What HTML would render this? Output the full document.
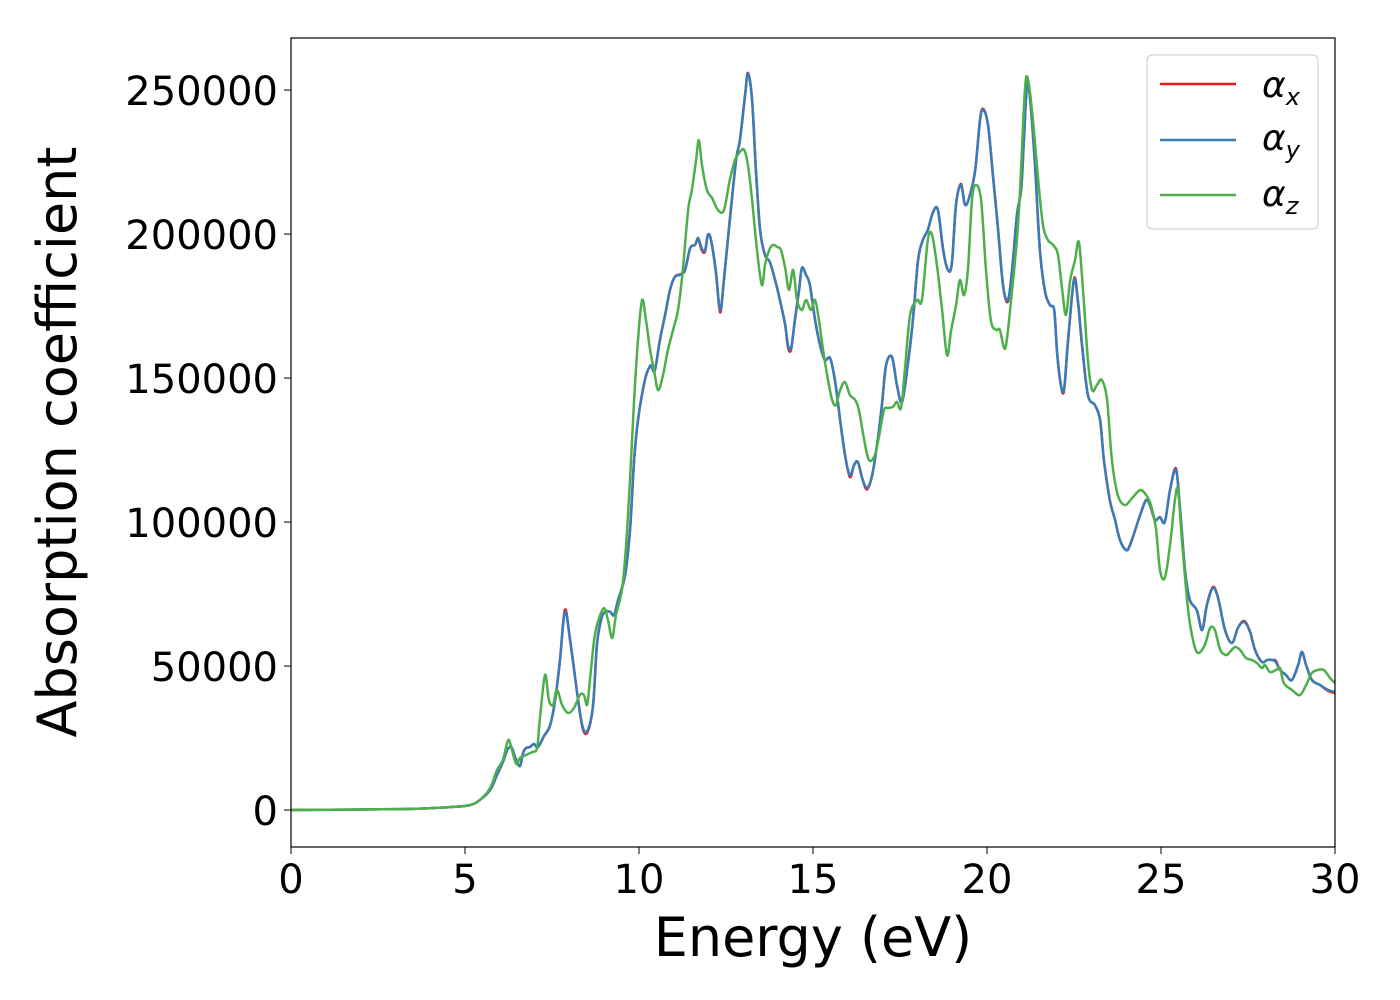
<!DOCTYPE html>
<html><head><meta charset="utf-8"><style>
body{margin:0;background:#fff}
svg{display:block;font-family:"DejaVu Sans","Liberation Sans",sans-serif}
</style></head><body>
<svg id="chart" width="1400" height="1000" viewBox="0 0 1400 1000">
<rect x="0" y="0" width="1400" height="1000" fill="#fff"/>
<g id="series"></g>
<rect x="291" y="38" width="1044" height="809" fill="none" stroke="#000" stroke-width="1.2"/>
<g id="xticks"></g>
<g id="yticks"></g>
<text x="813" y="956" font-size="54" text-anchor="middle">Energy (eV)</text>
<text transform="translate(76,442) rotate(-90)" font-size="54" text-anchor="middle">Absorption coefficient</text>
<g>
<rect x="1147" y="55" width="171" height="174" rx="5" fill="#fff" fill-opacity="0.8" stroke="#ccc" stroke-width="1"/>
<line x1="1160" y1="84" x2="1236" y2="84" stroke="#e41a1c" stroke-width="2.5"/>
<text x="1262" y="97" font-size="36" font-style="italic">α<tspan font-size="24" dy="8">x</tspan></text>
<line x1="1160" y1="140" x2="1236" y2="140" stroke="#377eb8" stroke-width="2.5"/>
<text x="1262" y="150" font-size="36" font-style="italic">α<tspan font-size="24" dy="8">y</tspan></text>
<line x1="1160" y1="195" x2="1236" y2="195" stroke="#4daf4a" stroke-width="2.5"/>
<text x="1262" y="206" font-size="36" font-style="italic">α<tspan font-size="24" dy="8">z</tspan></text>
</g>
</svg>
<script>
const xTicks=[0,5,10,15,20,25,30];
const yTicks=[0,50000,100000,150000,200000,250000];
const energyXY=[0,3.13,4.57,5.14,5.43,5.72,5.92,6.09,6.21,6.29,6.35,6.47,6.58,6.67,6.75,6.87,6.98,7.10,7.27,7.44,7.59,7.73,7.87,8.02,8.25,8.39,8.53,8.68,8.79,8.91,9.02,9.17,9.28,9.40,9.60,9.74,9.86,9.97,10.17,10.32,10.37,10.46,10.60,10.75,10.89,11.03,11.18,11.32,11.47,11.61,11.70,11.81,11.90,11.98,12.07,12.21,12.33,12.44,12.61,12.79,12.90,13.05,13.13,13.25,13.36,13.48,13.62,13.76,13.91,14.05,14.20,14.28,14.37,14.48,14.60,14.68,14.80,14.91,15.06,15.20,15.34,15.49,15.63,15.78,15.92,16.06,16.18,16.29,16.41,16.55,16.70,16.84,16.98,17.10,17.27,17.41,17.56,17.73,17.87,18.02,18.16,18.30,18.45,18.59,18.74,18.88,18.99,19.11,19.25,19.37,19.51,19.66,19.80,19.89,20.03,20.17,20.32,20.46,20.60,20.72,20.86,20.98,21.06,21.15,21.24,21.38,21.52,21.67,21.81,21.93,22.01,22.10,22.21,22.33,22.50,22.61,22.73,22.90,23.10,23.25,23.36,23.53,23.68,23.82,23.99,24.11,24.40,24.57,24.68,24.83,24.97,25.11,25.26,25.43,25.55,25.69,25.83,26.03,26.18,26.32,26.49,26.64,26.84,27.04,27.21,27.39,27.56,27.70,27.90,28.05,28.19,28.30,28.42,28.59,28.76,28.94,29.05,29.17,29.34,29.57,29.80,30.00];
const alphaX=[0,0.3,1.0,1.7,3.5,6.9,12.2,16.7,20.8,21.9,21.5,17.4,15.3,19.8,21.5,21.9,22.9,21.9,25.7,29.2,38.2,52.1,69.5,59.0,38.2,28.0,27.3,36.5,57.3,66.0,68.8,68.8,67.7,72.9,81.6,97.2,121.5,135.4,149.3,154.2,153.5,152.8,163.2,171.9,180.6,185.1,186.0,187.3,195.1,196.2,198.2,194.2,194.0,199.7,197.9,186.8,172.8,184.0,204.9,225.7,232.6,248.3,255.9,246.5,222.2,201.4,192.7,190.3,184.0,177.1,168.4,160.8,159.9,170.1,180.6,188.2,185.8,182.3,170.1,161.5,156.3,156.9,149.3,135.4,123.3,115.6,119.8,120.8,115.3,111.3,116.3,126.7,140.6,154.5,157.3,147.6,141.7,155.2,170.1,191.0,198.1,201.4,207.6,208.3,194.4,187.5,189.9,210.1,217.4,210.1,213.5,222.2,239.6,243.4,237.8,220.5,201.4,182.3,176.5,187.5,206.6,215.3,232.6,252.0,246.5,224.0,194.4,179.9,175.3,173.6,159.7,149.3,145.3,163.2,184.4,177.1,161.5,144.1,140.6,135.4,121.5,107.6,100.7,93.8,90.3,92.0,102.4,107.6,105.9,100.7,101.7,100.0,111.1,118.6,104.2,83.3,72.9,69.4,62.5,71.2,77.4,73.6,62.5,58.0,63.2,65.6,61.8,55.6,51.4,52.1,52.1,51.8,48.6,46.9,45.1,50.3,54.9,50.3,45.1,43.4,41.4,40.6];
const alphaY=[0,0.3,1.0,1.7,3.5,6.9,12.2,16.7,20.8,21.9,21.5,17.4,15.3,19.8,21.5,21.9,22.9,21.9,25.7,29.2,38.2,52.1,68.8,59.0,38.2,28.5,27.8,36.5,57.3,66.0,68.8,68.8,67.7,72.9,81.6,97.2,121.5,135.4,149.3,154.2,153.5,152.8,163.2,171.9,180.6,185.1,185.8,187.5,195.1,196.2,198.6,194.8,194.4,199.7,197.9,186.8,173.6,184.0,204.9,225.7,232.6,248.3,255.6,246.5,222.2,201.4,192.7,190.3,184.0,177.1,168.4,161.5,160.4,170.1,180.6,188.2,185.8,182.3,170.1,161.5,156.3,156.9,149.3,135.4,123.3,116.3,119.8,120.8,115.3,111.8,116.3,126.7,140.6,154.5,157.3,147.6,141.7,155.2,170.1,191.0,197.9,201.4,207.6,208.3,194.4,187.5,189.9,210.1,217.0,210.1,213.5,222.2,239.6,243.1,237.8,220.5,201.4,182.3,177.1,187.5,206.6,215.3,232.6,251.7,246.5,224.0,194.4,179.9,175.3,173.6,159.7,149.3,145.8,163.2,184.0,177.1,161.5,144.1,140.6,135.4,121.5,107.6,100.7,93.8,90.3,92.0,102.4,107.6,105.9,100.7,101.7,100.0,111.1,118.1,104.2,83.3,72.9,69.4,62.5,71.2,77.1,73.6,62.5,58.0,63.2,65.3,61.8,55.6,51.4,52.1,52.1,51.4,48.6,46.9,45.1,50.3,54.9,50.3,45.1,43.4,41.7,41.0];
const energyZ=[0,3.13,4.57,5.14,5.43,5.72,5.92,6.09,6.24,6.35,6.47,6.58,6.75,6.93,7.07,7.15,7.30,7.41,7.53,7.64,7.79,7.96,8.13,8.30,8.42,8.51,8.59,8.71,8.82,8.99,9.11,9.23,9.34,9.51,9.63,9.74,9.86,9.97,10.09,10.20,10.32,10.43,10.55,10.69,10.83,10.98,11.12,11.26,11.41,11.52,11.64,11.72,11.81,11.95,12.10,12.27,12.44,12.61,12.76,12.90,13.02,13.13,13.25,13.39,13.53,13.62,13.74,13.85,13.97,14.08,14.20,14.31,14.43,14.54,14.68,14.80,14.94,15.06,15.17,15.29,15.43,15.55,15.66,15.78,15.92,16.06,16.21,16.32,16.47,16.61,16.78,16.92,17.04,17.16,17.30,17.41,17.53,17.64,17.79,17.99,18.13,18.30,18.42,18.56,18.71,18.85,18.97,19.11,19.22,19.34,19.45,19.57,19.68,19.83,19.97,20.11,20.26,20.37,20.49,20.57,20.72,20.86,20.95,21.09,21.18,21.32,21.47,21.61,21.75,21.90,22.04,22.16,22.27,22.39,22.53,22.64,22.76,22.90,23.02,23.16,23.30,23.45,23.59,23.76,23.96,24.17,24.40,24.57,24.71,24.86,24.97,25.11,25.26,25.40,25.49,25.60,25.78,25.92,26.06,26.26,26.41,26.55,26.70,26.87,26.98,27.13,27.27,27.44,27.61,27.76,27.90,27.99,28.13,28.30,28.42,28.53,28.76,28.99,29.17,29.34,29.51,29.68,29.86,30.00];
const alphaZ=[0,0.3,1.0,1.7,3.5,7.6,13.9,17.4,24.3,20.8,16.0,18.1,19.1,20.1,21.5,31.3,46.9,38.2,36.5,41.7,36.5,33.7,35.4,39.9,39.9,36.5,45.1,59.0,65.3,70.1,65.9,59.7,67.7,76.4,92.0,114.6,142.4,163.2,177.1,170.1,159.7,152.8,145.8,151.0,159.7,166.7,173.6,187.5,208.3,215.3,225.7,232.6,223.9,215.3,212.5,208.3,208.3,218.8,225.7,228.5,229.2,223.9,211.8,194.4,182.3,189.2,194.4,196.2,195.5,194.4,188.2,180.6,187.5,177.1,173.6,177.1,173.6,177.1,170.1,159.7,149.3,142.4,140.6,145.8,148.6,144.1,142.4,138.9,128.5,121.5,123.3,131.2,138.9,139.6,140.0,141.7,139.6,152.8,171.9,177.1,177.1,197.9,199.7,189.2,173.6,157.9,166.7,175.3,184.0,178.8,187.5,211.8,217.0,211.8,187.5,170.1,166.7,166.7,160.4,163.2,180.6,197.9,215.3,250.0,253.5,239.6,218.8,203.1,197.9,196.2,192.7,180.6,171.9,184.0,190.9,197.2,180.6,156.3,145.8,147.6,149.3,142.4,121.5,109.4,105.9,108.3,111.1,109.4,105.9,97.2,83.3,80.6,92.0,107.6,111.1,93.8,69.4,59.0,54.5,57.3,63.2,62.5,55.6,53.8,54.9,56.6,55.6,52.8,52.1,51.0,49.3,50.3,47.9,48.6,49.3,44.1,41.7,39.9,43.4,47.6,48.6,48.6,45.8,44.1];

const NS='http://www.w3.org/2000/svg';
const X0=291,X1=1335,Y0=810,PXV=720/250000;
const sx=e=>X0+(e-0)*(X1-X0)/30;
const sy=v=>Y0-v*PXV;
function pathFrom(xs,vs){
  const p=xs.map((e,i)=>[sx(e),sy(vs[i]*1000)]);
  let d='M'+p[0][0].toFixed(1)+','+p[0][1].toFixed(1);
  for(let i=0;i<p.length-1;i++){
    const a=p[i-1]||p[i],b=p[i],c=p[i+1],n=p[i+2]||c;
    const c1=[b[0]+(c[0]-a[0])/6,b[1]+(c[1]-a[1])/6];
    const c2=[c[0]-(n[0]-b[0])/6,c[1]-(n[1]-b[1])/6];
    d+='C'+c1[0].toFixed(1)+','+c1[1].toFixed(1)+' '+c2[0].toFixed(1)+','+c2[1].toFixed(1)+' '+c[0].toFixed(1)+','+c[1].toFixed(1);
  }
  return d;
}
const g=document.getElementById('series');
function addLine(xs,vs,color,name){
  const el=document.createElementNS(NS,'path');
  el.setAttribute('d',pathFrom(xs,vs));
  el.setAttribute('fill','none');
  el.setAttribute('stroke',color);
  el.setAttribute('stroke-width','2.5');
  el.setAttribute('stroke-linejoin','round');
  
  
  g.appendChild(el);
}
const cp=document.createElementNS(NS,'clipPath');cp.setAttribute('id','clip');
const cr=document.createElementNS(NS,'rect');cr.setAttribute('x',X0);cr.setAttribute('y',38);cr.setAttribute('width',X1-X0);cr.setAttribute('height',809);
cp.appendChild(cr);document.getElementById('chart').appendChild(cp);
g.setAttribute('clip-path','url(#clip)');
addLine(energyXY,alphaX,'#e41a1c','series-alpha-x');
addLine(energyXY,alphaY,'#377eb8','series-alpha-y');
addLine(energyZ,alphaZ,'#4daf4a','series-alpha-z');

const xg=document.getElementById('xticks');
xTicks.forEach(t=>{
  const l=document.createElementNS(NS,'line');
  l.setAttribute('x1',sx(t));l.setAttribute('x2',sx(t));l.setAttribute('y1',847);l.setAttribute('y2',854);l.setAttribute('stroke','#000');
  
  
  xg.appendChild(l);
  const tx=document.createElementNS(NS,'text');
  tx.setAttribute('x',sx(t));tx.setAttribute('y',893);tx.setAttribute('font-size','40');tx.setAttribute('text-anchor','middle');
  tx.textContent=t;
  
  
  xg.appendChild(tx);
});
const yg=document.getElementById('yticks');
yTicks.forEach(t=>{
  const l=document.createElementNS(NS,'line');
  l.setAttribute('x1',284);l.setAttribute('x2',291);l.setAttribute('y1',sy(t));l.setAttribute('y2',sy(t));l.setAttribute('stroke','#000');
  
  
  yg.appendChild(l);
  const tx=document.createElementNS(NS,'text');
  tx.setAttribute('x',278);tx.setAttribute('y',sy(t)+15);tx.setAttribute('font-size','40');tx.setAttribute('text-anchor','end');
  tx.textContent=t;
  
  
  yg.appendChild(tx);
});
</script>
</body></html>
